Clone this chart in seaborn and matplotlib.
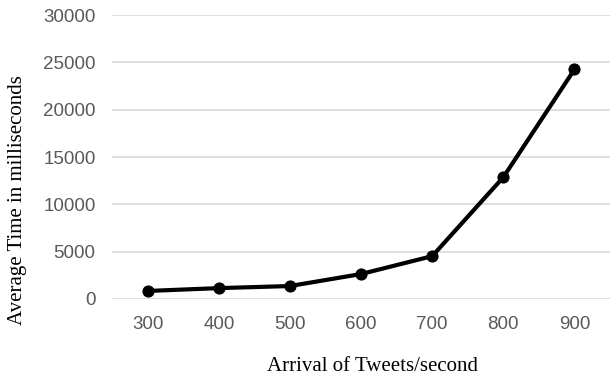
import seaborn as sns
import matplotlib.pyplot as plt
import pandas as pd

rate = [300, 400, 500, 600, 700, 800, 900]
avg_ms = [850, 1150, 1370, 2640, 4530, 12870, 24260]
yticks = [0, 5000, 10000, 15000, 20000, 25000, 30000]

sns.set_theme(style="white")
plt.rcParams['font.family'] = ['Liberation Sans', 'DejaVu Sans']

df = pd.DataFrame({"rate": rate, "avg": avg_ms})

fig = plt.figure(figsize=(6.1, 3.78), dpi=100)
ax = fig.add_axes([0.184, 0.209, 0.816, 0.751])

for t in yticks:
    ax.axhline(t, color="#d9d9d9", lw=1.2, zorder=0)

sns.lineplot(data=df, x="rate", y="avg", color="black", lw=3,
             marker="o", markersize=8, markeredgecolor="black", ax=ax)

ax.set_xlim(250, 950)
ax.set_ylim(0, 30000)
ax.set_xticks(rate)
ax.set_yticks(yticks)
ax.tick_params(axis="both", length=0, labelsize=13.5, labelcolor="#595959")
ax.tick_params(axis="x", pad=12)
ax.tick_params(axis="y", pad=12)

ax.set_xlabel("Arrival of Tweets/second", family="Liberation Serif",
              fontsize=15, color="black")
ax.set_ylabel("Average Time in milliseconds", family="Liberation Serif",
              fontsize=15, color="black")
ax.xaxis.set_label_coords(0.522, -0.205)
ax.yaxis.set_label_coords(-0.172, 0.35)

sns.despine(ax=ax, left=True, bottom=True, top=True, right=True)

fig.savefig("out.png", dpi=100)
